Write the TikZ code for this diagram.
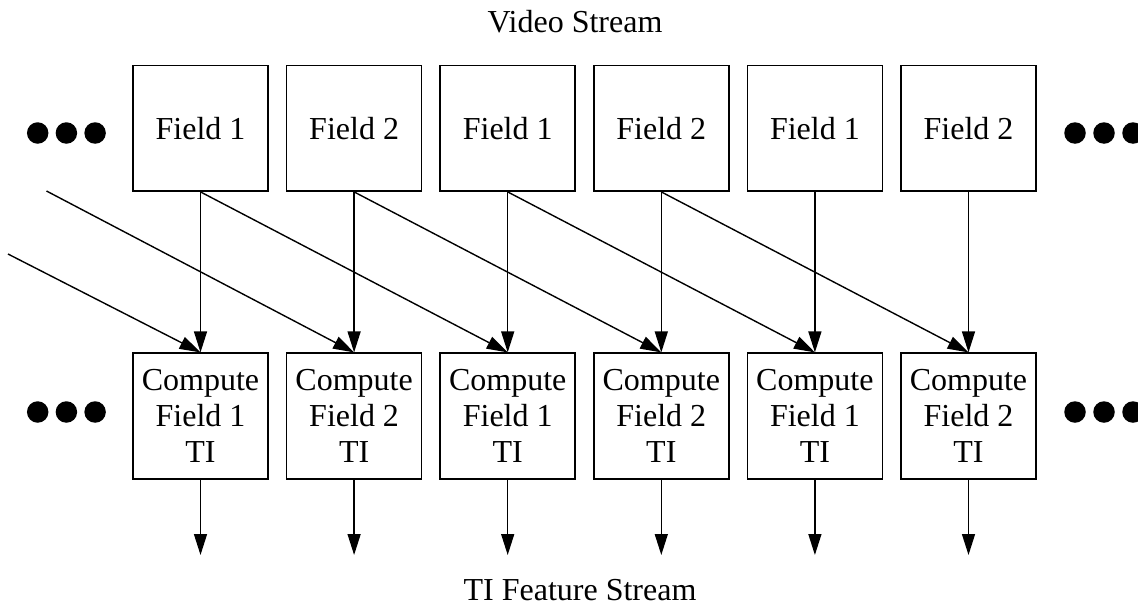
\documentclass[tikz,border=0pt]{standalone}
\usepackage{fontspec}
\setmainfont{Liberation Serif}
\usetikzlibrary{arrows.meta}
\begin{document}
\begin{tikzpicture}[x=1pt,y=-1pt,
  box/.style={draw,line width=1.7pt,minimum width=135pt,minimum height=125.5pt,
    inner sep=0pt,align=center,font=\fontsize{32}{36}\selectfont},
  link/.style={line width=1.4pt,-{Triangle[length=21pt,width=13pt]}},
  blob/.style={circle,fill,inner sep=0pt,minimum size=21.5pt},
  caption/.style={font=\fontsize{32}{36}\selectfont,anchor=base,inner sep=0pt}]
\useasboundingbox (0,0) rectangle (1138,611);

% stream titles
\node[caption] (vs) at (575,32) {Video Stream};
\node[caption] (ts) at (580,600) {TI Feature Stream};

% field boxes and the TI stages below them
\foreach \i/\f in {1/1,2/2,3/1,4/2,5/1,6/2}{
  \node[box] (t\i) at ({200.5+153.6*(\i-1)},128.3) {Field \f};
  \node[box] (b\i) at ({200.5+153.6*(\i-1)},416) {Compute\\Field \f\\TI};
  \coordinate (o\i) at ({200.5+153.6*(\i-1)},555);
}

% continuation marks
\foreach \j/\x in {1/37.7,2/66.4,3/95.1}{
  \node[blob] (lt\j) at (\x,133) {};
  \node[blob] (lb\j) at (\x,412) {};
}
\foreach \j/\x in {1/1075,2/1104,3/1133}{
  \node[blob] (rt\j) at (\x,133) {};
  \node[blob] (rb\j) at (\x,412) {};
}

% each field feeds its own stage and the stage two steps later
\foreach \i in {1,...,6}{
  \draw[link] (t\i.south) -- (b\i.north);
  \draw[link] (b\i.south) -- (o\i);
}
\foreach \i/\k in {1/3,2/4,3/5,4/6}{
  \draw[link] (t\i.south) -- (b\k.north);
}

% inputs from fields before the first shown
\coordinate (in1) at (46.5,191);
\coordinate (in2) at (8,254);
\draw[link] (in1) -- (b2.north);
\draw[link] (in2) -- (b1.north);
\end{tikzpicture}
\end{document}
